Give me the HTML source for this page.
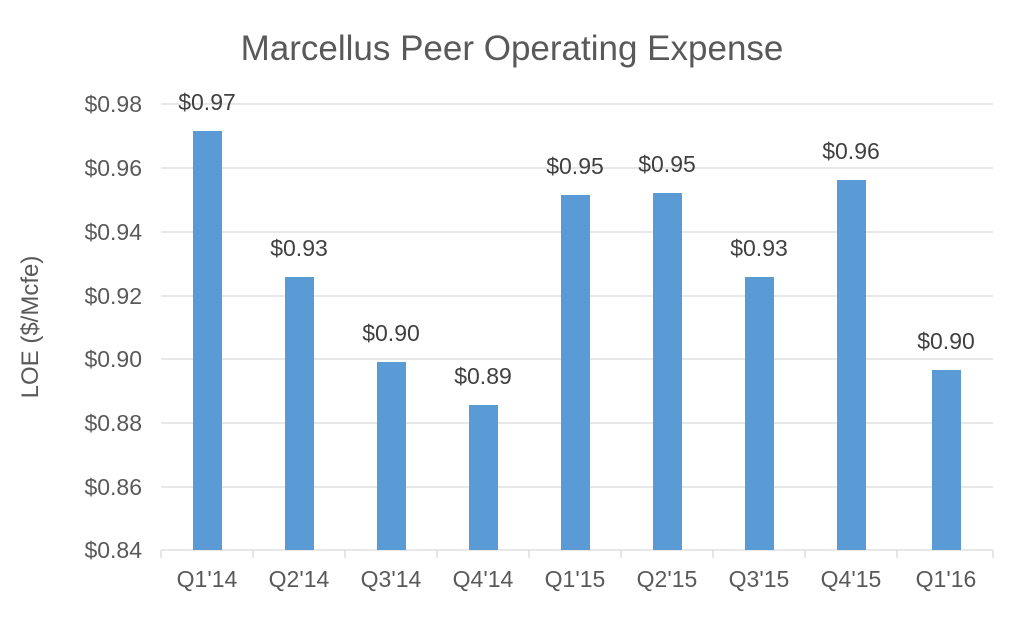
<!DOCTYPE html><html><head><style>body{margin:0;background:#fff;font-family:"Liberation Sans",sans-serif}</style></head><body>
<svg width="1024" height="617" xmlns="http://www.w3.org/2000/svg" font-family="Liberation Sans, sans-serif">
<rect width="1024" height="617" fill="#fff"/>
<text x="512" y="60" text-anchor="middle" font-size="35" fill="#595959">Marcellus Peer Operating Expense</text>
<g stroke="#d9d9d9" stroke-width="1.3">
<line x1="161" x2="993" y1="104" y2="104"/><line x1="161" x2="993" y1="168" y2="168"/><line x1="161" x2="993" y1="232" y2="232"/><line x1="161" x2="993" y1="296" y2="296"/><line x1="161" x2="993" y1="359" y2="359"/><line x1="161" x2="993" y1="423" y2="423"/><line x1="161" x2="993" y1="487" y2="487"/>
<line x1="161" x2="993" y1="550" y2="550"/>
<line x1="161" x2="161" y1="550" y2="558"/><line x1="253" x2="253" y1="550" y2="558"/><line x1="345" x2="345" y1="550" y2="558"/><line x1="437" x2="437" y1="550" y2="558"/><line x1="529" x2="529" y1="550" y2="558"/><line x1="621" x2="621" y1="550" y2="558"/><line x1="713" x2="713" y1="550" y2="558"/><line x1="805" x2="805" y1="550" y2="558"/><line x1="897" x2="897" y1="550" y2="558"/><line x1="993" x2="993" y1="550" y2="558"/>
</g>
<g font-size="23" fill="#595959" text-anchor="end">
<text x="142" y="112">$0.98</text><text x="142" y="176">$0.96</text><text x="142" y="240">$0.94</text><text x="142" y="304">$0.92</text><text x="142" y="367">$0.90</text><text x="142" y="431">$0.88</text><text x="142" y="495">$0.86</text><text x="142" y="558">$0.84</text>
</g>
<text transform="translate(38,327) rotate(-90)" text-anchor="middle" font-size="24" fill="#595959">LOE ($/Mcfe)</text>
<g fill="#5b9bd5">
<rect x="193" y="131" width="29" height="419"/>
<rect x="285" y="277" width="29" height="273"/>
<rect x="377" y="362" width="29" height="188"/>
<rect x="469" y="405" width="29" height="145"/>
<rect x="561" y="195" width="29" height="355"/>
<rect x="653" y="193" width="29" height="357"/>
<rect x="745" y="277" width="29" height="273"/>
<rect x="837" y="180" width="29" height="370"/>
<rect x="932" y="370" width="29" height="180"/>
</g>
<g font-size="23" fill="#404040" text-anchor="middle">
<text x="207" y="110">$0.97</text><text x="299" y="256">$0.93</text><text x="391" y="341">$0.90</text><text x="483" y="384">$0.89</text><text x="575" y="174">$0.95</text><text x="667" y="172">$0.95</text><text x="759" y="256">$0.93</text><text x="851" y="159">$0.96</text><text x="946" y="349">$0.90</text>
</g>
<g font-size="23" fill="#595959" text-anchor="middle">
<text x="207" y="587">Q1'14</text><text x="299" y="587">Q2'14</text><text x="391" y="587">Q3'14</text><text x="483" y="587">Q4'14</text><text x="575" y="587">Q1'15</text><text x="667" y="587">Q2'15</text><text x="759" y="587">Q3'15</text><text x="851" y="587">Q4'15</text><text x="946" y="587">Q1'16</text>
</g>
</svg></body></html>
